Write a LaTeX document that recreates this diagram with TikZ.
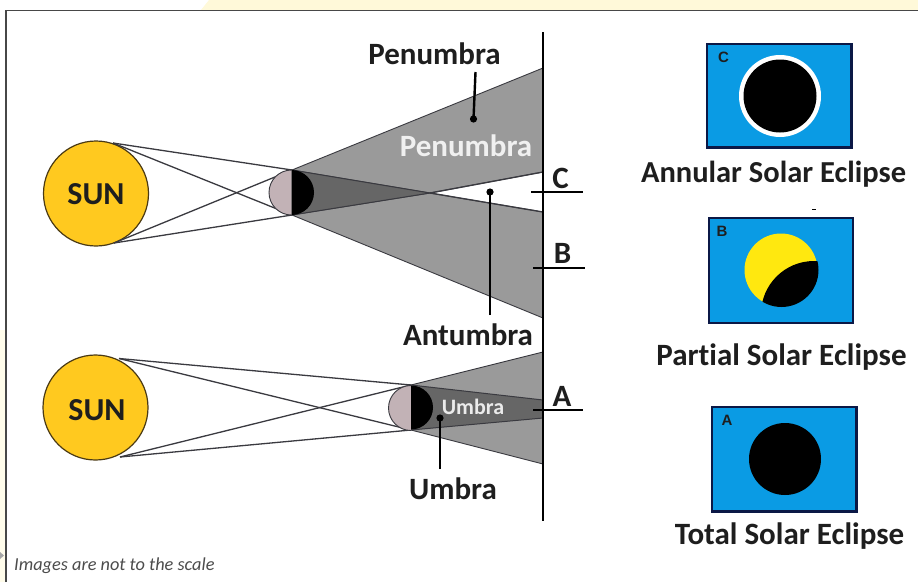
\documentclass[tikz,border=0pt]{standalone}
\usepackage{fontspec}
\setmainfont[Ligatures=NoCommon]{Carlito}
\newfontfamily\labelsans{Liberation Sans}
\definecolor{sunfill}{HTML}{FFC91F}
\definecolor{sunedge}{HTML}{4A3A14}
\definecolor{raycol}{HTML}{3A3A40}
\definecolor{penumbrafill}{HTML}{9A9A9A}
\definecolor{umbrafill}{HTML}{666666}
\definecolor{moonlit}{HTML}{C2B2B6}
\definecolor{skyblue}{HTML}{0A9BE4}
\definecolor{paneledge}{HTML}{0B1846}
\definecolor{corona}{HTML}{FFE80F}
\definecolor{banner}{HTML}{FFF9D9}
\definecolor{inktext}{HTML}{1E1E1E}
\tikzset{
  sunbody/.style={draw=sunedge,line width=1.2pt,fill=sunfill},
  ray/.style={draw=raycol,line width=1.3pt},
  wall/.style={draw=black,line width=2.6pt},
  tick/.style={draw=black,line width=1.9pt},
  pointer/.style={draw=black,line width=2.4pt},
  pointerdot/.style={fill=black},
  shadowpen/.style={fill=penumbrafill,draw=raycol,line width=.9pt},
  shadowcore/.style={fill=umbrafill,draw=raycol,line width=1pt},
  panel/.style={draw=paneledge,line width=2.4pt,fill=skyblue},
  heading/.style={font=\fontsize{31}{33}\selectfont\bfseries,text=inktext,inner sep=0pt},
  sunlabel/.style={font=\fontsize{32}{34}\selectfont\bfseries,text=inktext,inner sep=0pt},
  letter/.style={font=\fontsize{31}{33}\selectfont\bfseries,text=inktext,inner sep=0pt},
  paneltag/.style={font=\labelsans\fontsize{15}{16}\selectfont\bfseries,text=inktext,inner sep=0pt},
}
\begin{document}
\begin{tikzpicture}[x=1pt,y=-1pt]
\useasboundingbox (0,0) rectangle (918,582);
\fill[white] (0,0) rectangle (918,582);

% page furniture: banner strip, frame, margin
\fill[banner] (201,10) -- (209,0) -- (918,0) -- (918,10) -- cycle;
\fill[banner!55!white] (0,330) rectangle (5.5,582);
\fill[gray!70] (0,552) -- (4,555.5) -- (0,559) -- cycle;
\draw[draw=black!72,line width=1.3pt] (6,582) -- (6,10.5) -- (918,10.5);

% key points of the upper sun-moon-wall arrangement
\coordinate (topA) at (292,170);
\coordinate (botA) at (292,215);
\coordinate (apexA) at (430,193);
\coordinate (penTop) at (543,68);
\coordinate (penMidA) at (543,172);
\coordinate (penMidB) at (543,212);
\coordinate (penBot) at (543,318);

% upper shadows
\filldraw[shadowpen] (topA) -- (penTop) -- (penMidA) -- (apexA) -- cycle;
\filldraw[shadowpen] (botA) -- (penBot) -- (penMidB) -- (apexA) -- cycle;
\filldraw[shadowcore] (topA) -- (apexA) -- (botA) -- cycle;
\draw[ray] (apexA) -- (penMidA);
\draw[ray] (apexA) -- (penMidB);

% upper sun and its rays
\node[circle,sunbody,minimum size=105pt,inner sep=0pt] (sunA) at (96,193.5) {};
\node[sunlabel] at (96,194.5) {SUN};
\coordinate (sunAn) at (113,143);
\coordinate (sunAs) at (114,243);
\draw[ray] (sunAn) -- (topA);
\draw[ray] (sunAs) -- (botA);
\draw[ray] (sunAn) -- (botA);
\draw[ray] (sunAs) -- (topA);

% upper moon
\fill[moonlit] (291.5,170) arc[start angle=90,end angle=270,radius=22.5pt] -- cycle;
\fill[black] (291.5,170) arc[start angle=90,end angle=-90,radius=22.5pt] -- cycle;
\draw[raycol,line width=.9pt] (291.5,170) arc[start angle=90,end angle=270,radius=22.5pt];

% lower arrangement
\coordinate (topB) at (411,385);
\coordinate (botB) at (411,430);
\coordinate (lowPenTop) at (543,352);
\coordinate (lowPenBot) at (543,464);
\coordinate (lowCoreTop) at (543,400);
\coordinate (lowCoreBot) at (543,418);
\filldraw[shadowpen] (topB) -- (lowPenTop) -- (lowPenBot) -- (botB) -- cycle;
\filldraw[shadowcore] (topB) -- (lowCoreTop) -- (lowCoreBot) -- (botB) -- cycle;

\node[circle,sunbody,minimum size=105pt,inner sep=0pt] (sunB) at (95.5,407.5) {};
\node[sunlabel] at (97,410.5) {SUN};
\coordinate (sunBn) at (119,358.5);
\coordinate (sunBs) at (120,457);
\draw[ray] (sunBn) -- (topB);
\draw[ray] (sunBs) -- (botB);
\draw[ray] (sunBn) -- (botB);
\draw[ray] (sunBs) -- (topB);

\fill[moonlit] (411,385.5) arc[start angle=90,end angle=270,radius=22.5pt] -- cycle;
\fill[black] (411,385.5) arc[start angle=90,end angle=-90,radius=22pt] -- cycle;
\draw[raycol,line width=.9pt] (411,385.5) arc[start angle=90,end angle=270,radius=22.5pt];

% observing wall and the three stations
\draw[wall] (543,32) -- (543,521);
\coordinate (tickCa) at (531,192);
\coordinate (tickCb) at (583,192);
\coordinate (tickBa) at (533,268);
\coordinate (tickBb) at (585,268);
\coordinate (tickAa) at (533,410);
\coordinate (tickAb) at (583,410);
\draw[tick] (tickCa) -- (tickCb);
\draw[tick] (tickBa) -- (tickBb);
\draw[tick] (tickAa) -- (tickAb);
\node[letter] at (560.5,178) {C};
\node[letter] at (562.5,253) {B};
\node[letter] at (562,396) {A};

% region names and their pointers
\node[heading] (penLabel) at (434.5,54) {Penumbra};
\node[heading,text=white!94!black] at (466,146) {Penumbra};
\node[heading] (antLabel) at (468,335) {Antumbra};
\node[heading] (umbLabel) at (453,489) {Umbra};
\node[font=\fontsize{22}{24}\selectfont\bfseries,text=white!92!black,inner sep=0pt] at (473,407) {Umbra};

\coordinate (penDot) at (473.5,119);
\coordinate (antDot) at (490,192);
\coordinate (umbDot) at (440,418);
\draw[pointer] (475.5,72) -- (penDot);
\draw[pointer] (490,315) -- (antDot);
\draw[pointer] (440,469) -- (umbDot);
\fill[pointerdot] (penDot) circle[radius=3.6pt];
\fill[pointerdot] (antDot) circle[radius=3.6pt];
\fill[pointerdot] (umbDot) circle[radius=3.6pt];

% annular eclipse panel
\filldraw[panel] (707,44) rectangle (851.5,147.5);
\fill[white] (780,96) circle[radius=41pt];
\fill[black] (780,96) circle[radius=36.5pt];
\node[paneltag] at (723.5,57) {C};
\node[heading,font=\fontsize{30.5}{33}\selectfont\bfseries] at (773.5,174) {Annular Solar Eclipse};

% partial eclipse panel
\fill[black] (812,208.5) rectangle (816,210);
\filldraw[panel] (709,218) rectangle (853,323);
\fill[corona] (781,270) circle[radius=36.5pt];
\begin{scope}
  \clip (781.5,270) circle[radius=37pt];
  \fill[black] (814,314) circle[radius=53pt];
\end{scope}
\node[paneltag] at (722,231) {B};
\node[heading] at (781.5,357.5) {Partial Solar Eclipse};

% total eclipse panel
\filldraw[panel] (712,407) rectangle (856.5,511.5);
\fill[black] (785,459) circle[radius=36pt];
\node[paneltag] at (727,420) {A};
\node[heading] at (789.5,536) {Total Solar Eclipse};

% scale note
\node[font=\fontsize{18.3}{20}\selectfont\itshape,text=black!70,inner sep=0pt,anchor=west] at (14,566) {Images are not to the scale};
\end{tikzpicture}
\end{document}
